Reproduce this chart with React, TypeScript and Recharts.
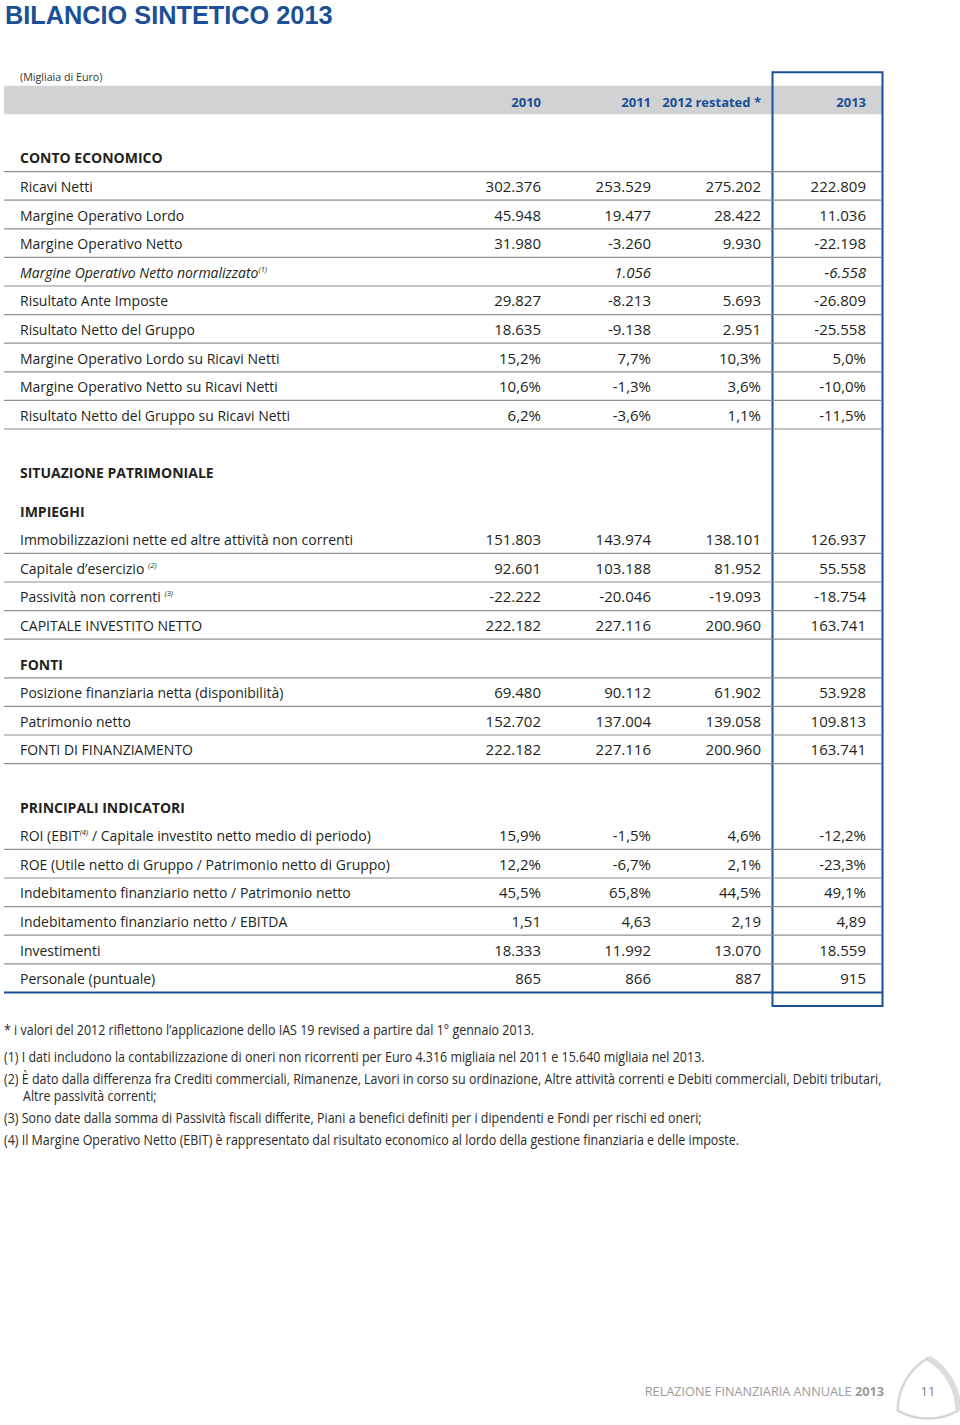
import React from 'react';
import { ScatterChart, Scatter, XAxis, YAxis, ReferenceLine, ReferenceArea } from 'recharts';

// ---------------- DATA ----------------
const title = 'BILANCIO SINTETICO 2013';
const unitNote = '(Migliaia di Euro)';
const years = ['2010', '2011', '2012 restated *', '2013'];

const ceTitle = 'CONTO ECONOMICO';
const ceLabels = [
  'Ricavi Netti',
  'Margine Operativo Lordo',
  'Margine Operativo Netto',
  'Margine Operativo Netto normalizzato^(1)',
  'Risultato Ante Imposte',
  'Risultato Netto del Gruppo',
  'Margine Operativo Lordo su Ricavi Netti',
  'Margine Operativo Netto su Ricavi Netti',
  'Risultato Netto del Gruppo su Ricavi Netti',
];
const ce2010 = [302376, 45948, 31980, null, 29827, 18635, 15.2, 10.6, 6.2];
const ce2011 = [253529, 19477, -3260, 1056, -8213, -9138, 7.7, -1.3, -3.6];
const ce2012 = [275202, 28422, 9930, null, 5693, 2951, 10.3, 3.6, 1.1];
const ce2013 = [222809, 11036, -22198, -6558, -26809, -25558, 5.0, -10.0, -11.5];
const ceFormats = ['k', 'k', 'k', 'k', 'k', 'k', 'pct', 'pct', 'pct'];
const ceItalicRows = [3];

const spTitle = 'SITUAZIONE PATRIMONIALE';
const impTitle = 'IMPIEGHI';
const impLabels = [
  'Immobilizzazioni nette ed altre attività non correnti',
  'Capitale d’esercizio ^(2)',
  'Passività non correnti ^(3)',
  'CAPITALE INVESTITO NETTO',
];
const imp2010 = [151803, 92601, -22222, 222182];
const imp2011 = [143974, 103188, -20046, 227116];
const imp2012 = [138101, 81952, -19093, 200960];
const imp2013 = [126937, 55558, -18754, 163741];

const fontiTitle = 'FONTI';
const fontiLabels = [
  'Posizione finanziaria netta (disponibilità)',
  'Patrimonio netto',
  'FONTI DI FINANZIAMENTO',
];
const fonti2010 = [69480, 152702, 222182];
const fonti2011 = [90112, 137004, 227116];
const fonti2012 = [61902, 139058, 200960];
const fonti2013 = [53928, 109813, 163741];

const indTitle = 'PRINCIPALI INDICATORI';
const indLabels = [
  'ROI (EBIT^(4)^ / Capitale investito netto medio di periodo)',
  'ROE (Utile netto di Gruppo / Patrimonio netto di Gruppo)',
  'Indebitamento finanziario netto / Patrimonio netto',
  'Indebitamento finanziario netto / EBITDA',
  'Investimenti',
  'Personale (puntuale)',
];
const ind2010 = [15.9, 12.2, 45.5, 1.51, 18333, 865];
const ind2011 = [-1.5, -6.7, 65.8, 4.63, 11992, 866];
const ind2012 = [4.6, 2.1, 44.5, 2.19, 13070, 887];
const ind2013 = [-12.2, -23.3, 49.1, 4.89, 18559, 915];
const indFormats = ['pct', 'pct', 'pct', 'ratio', 'k', 'k'];

const ruledHeadings = [ceTitle, fontiTitle];

const footnotes = [
  '* i valori del 2012 riflettono l’applicazione dello IAS 19 revised a partire dal 1° gennaio 2013.',
  '(1) I dati includono la contabilizzazione di oneri non ricorrenti per Euro 4.316 migliaia nel 2011 e 15.640 migliaia nel 2013.',
  '(2) È dato dalla differenza fra Crediti commerciali, Rimanenze, Lavori in corso su ordinazione, Altre attività correnti e Debiti commerciali, Debiti tributari,',
  'Altre passività correnti;',
  '(3) Sono date dalla somma di Passività fiscali differite, Piani a benefici definiti per i dipendenti e Fondi per rischi ed oneri;',
  '(4) Il Margine Operativo Netto (EBIT) è rappresentato dal risultato economico al lordo della gestione finanziaria e delle imposte.',
];
const footerText = 'RELAZIONE FINANZIARIA ANNUALE ';
const footerYear = '2013';
const pageNumber = '11';

// ---------------- LAYOUT / STYLE ----------------
const W = 960;
const H = 1425;
const FONT = "'Open Sans', 'Noto Sans', sans-serif";
const TITLE_FONT = "'Liberation Sans', Arial, sans-serif";
const BLUE = '#1b4f96';
const TEXT = '#231f20';
const GRID = '#8e8e8e';
const COL_RIGHT = [541, 651, 761, 866];
const LABEL_X = 20;
const TABLE_L = 4;
const TABLE_R = 882;
const BASE0 = 163.3;
const ROW = 28.6;
const LINE_OFF = 8.3;

type Fmt = 'k' | 'pct' | 'ratio';
type Row = {
  label: string;
  kind: 'section' | 'sub' | 'data';
  vals?: (number | null)[];
  fmt?: Fmt;
  italic?: boolean;
};

function groupThousands(n: number): string {
  const s = Math.abs(Math.round(n)).toString();
  const out = s.replace(/\B(?=(\d{3})+(?!\d))/g, '.');
  return (n < 0 ? '-' : '') + out;
}
function fmtValue(v: number | null, f: Fmt): string {
  if (v === null || v === undefined) return '';
  if (f === 'pct') return v.toFixed(1).replace('.', ',') + '%';
  if (f === 'ratio') return v.toFixed(2).replace('.', ',');
  return groupThousands(v);
}

function dataRows(labels: string[], cols: (number | null)[][], fmts: string[] | Fmt, italic: number[] = []): Row[] {
  return labels.map((label, i) => ({
    label,
    kind: 'data' as const,
    vals: cols.map((c) => c[i]),
    fmt: (Array.isArray(fmts) ? fmts[i] : fmts) as Fmt,
    italic: italic.includes(i),
  }));
}

const rows: Row[] = [
  { label: ceTitle, kind: 'section' },
  ...dataRows(ceLabels, [ce2010, ce2011, ce2012, ce2013], ceFormats, ceItalicRows),
  { label: spTitle, kind: 'section' },
  { label: impTitle, kind: 'sub' },
  ...dataRows(impLabels, [imp2010, imp2011, imp2012, imp2013], 'k'),
  { label: fontiTitle, kind: 'sub' },
  ...dataRows(fontiLabels, [fonti2010, fonti2011, fonti2012, fonti2013], 'k'),
  { label: indTitle, kind: 'section' },
  ...dataRows(indLabels, [ind2010, ind2011, ind2012, ind2013], indFormats),
];

type TextItem = {
  px: number;
  py: number;
  text: string;
  anchor?: 'start' | 'end' | 'middle';
  size: number;
  weight?: number;
  fill?: string;
  italic?: boolean;
  sx?: number;
  family?: string;
};

const cells: TextItem[] = [];
const rules: { y: number; blue: boolean }[] = [];
let u = 0;
rows.forEach((r, i) => {
  if (i > 0) u += r.kind === 'section' ? 2 : r.kind === 'sub' ? 1.35 : 1;
  const base = BASE0 + u * ROW;
  cells.push({
    px: LABEL_X,
    py: base,
    text: r.label,
    size: 14,
    weight: r.kind === 'data' ? 400 : 700,
    italic: r.italic,
    fill: TEXT,
  });
  if (r.vals) {
    r.vals.forEach((v, c) => {
      const t = fmtValue(v, r.fmt as Fmt);
      if (t) cells.push({ px: COL_RIGHT[c], py: base, text: t, anchor: 'end', size: 15, italic: r.italic, fill: TEXT });
    });
  }
  if (r.kind === 'data' || ruledHeadings.includes(r.label)) {
    rules.push({ y: base + LINE_OFF, blue: i === rows.length - 1 });
  }
});
const tableBottom = rules[rules.length - 1].y;

const headerItems: TextItem[] = [
  { px: 5, py: 23.5, text: title, size: 25.3, weight: 700, fill: BLUE, family: TITLE_FONT },
  { px: LABEL_X, py: 81, text: unitNote, size: 11.5, fill: '#333', sx: 0.93 },
  ...years.map((y, i) => ({ px: COL_RIGHT[i], py: 106.5, text: y, anchor: 'end' as const, size: 13, weight: 700, fill: BLUE })),
];

const FOOT_Y = [1035, 1062, 1084, 1101, 1123, 1145];
const footItems: TextItem[] = footnotes.map((t, i) => ({
  px: i === 3 ? 23 : 4,
  py: FOOT_Y[i],
  text: t,
  size: 14,
  fill: '#2a2a2a',
  sx: 0.892,
}));

const footerItems: TextItem[] = [
  { px: 884, py: 1396, text: footerText + '~' + footerYear, anchor: 'end', size: 12.7, fill: '#9a9a9a' },
  { px: 928, py: 1396, text: pageNumber, anchor: 'middle', size: 13, fill: '#808080' },
];

// ---------------- RENDERING ----------------
function TextShape(props: any) {
  const { cx, cy, payload } = props;
  if (cx == null || cy == null || !payload) return null;
  const p = payload as TextItem;
  const sx = p.sx ?? 1;
  const sup = p.size * 0.42;
  // '~' marks a bold tail, '^' toggles superscript
  let main = p.text;
  let boldTail = '';
  if (main.includes('~')) {
    [main, boldTail] = main.split('~');
  }
  const parts = main.split('^');
  return (
    <text
      transform={`translate(${cx},${cy}) scale(${sx},1)`}
      x={0}
      y={0}
      textAnchor={p.anchor ?? 'start'}
      fontFamily={p.family ?? FONT}
      fontSize={p.size}
      fontWeight={p.weight ?? 400}
      fontStyle={p.italic ? 'italic' : 'normal'}
      fill={p.fill ?? TEXT}
      style={{ whiteSpace: 'pre' }}
    >
      {parts.map((s, i) =>
        i % 2 === 1 ? (
          <tspan key={i} fontSize={p.size * 0.55} dy={-sup} fontStyle="italic">
            {s}
          </tspan>
        ) : (
          <tspan key={i} dy={i > 0 ? sup : 0}>
            {s}
          </tspan>
        )
      )}
      {boldTail ? <tspan fontWeight={700}>{boldTail}</tspan> : null}
    </text>
  );
}

function BadgeShape(props: any) {
  const { cx, cy } = props;
  if (cx == null || cy == null) return null;
  const r = 35;
  const w = r * Math.sqrt(3);
  const top = [cx, cy - r];
  const right = [cx + r * Math.cos(Math.PI / 6), cy + r * Math.sin(Math.PI / 6)];
  const left = [cx - r * Math.cos(Math.PI / 6), cy + r * Math.sin(Math.PI / 6)];
  const d = `M${top[0]},${top[1]} A${w},${w} 0 0 1 ${right[0]},${right[1]} A${w},${w} 0 0 1 ${left[0]},${left[1]} A${w},${w} 0 0 1 ${top[0]},${top[1]} Z`;
  const dRight = `M${top[0]},${top[1]} A${w},${w} 0 0 1 ${right[0]},${right[1]}`;
  return (
    <g>
      <path d={d} fill="#ffffff" stroke="#d6d6d6" strokeWidth={2.5} />
      <path d={dRight} fill="none" stroke="#dcdcdc" strokeWidth={6} />
    </g>
  );
}

const badge = [{ px: 928, py: 1393 }];

export default function App() {
  return (
    <div style={{ width: W, height: H, overflow: 'hidden', background: '#fff' }}>
      <style>{'body{margin:0;background:#fff}'}</style>
      <ScatterChart width={W} height={H} margin={{ top: 0, right: 0, bottom: 0, left: 0 }}>
        <XAxis type="number" dataKey="px" domain={[0, W]} hide allowDataOverflow height={0} />
        <YAxis type="number" dataKey="py" domain={[0, H]} reversed hide allowDataOverflow width={0} />
        <ReferenceArea
          x1={TABLE_L}
          x2={TABLE_R}
          y1={85.7}
          y2={114.3}
          fill="#d1d2d4"
          fillOpacity={1}
          stroke="none"
        />
        {rules.map((r, i) => (
          <ReferenceLine
            key={i}
            segment={[
              { x: TABLE_L, y: r.y },
              { x: TABLE_R, y: r.y },
            ]}
            stroke={r.blue ? BLUE : GRID}
            strokeWidth={r.blue ? 2 : 1.2}
          />
        ))}
        <ReferenceArea
          x1={772.5}
          x2={882.5}
          y1={72.3}
          y2={tableBottom + 13.5}
          fill="none"
          fillOpacity={0}
          stroke={BLUE}
          strokeWidth={2}
        />
        <Scatter data={badge} shape={BadgeShape} isAnimationActive={false} />
        <Scatter data={headerItems} shape={TextShape} isAnimationActive={false} />
        <Scatter data={cells} shape={TextShape} isAnimationActive={false} />
        <Scatter data={footItems} shape={TextShape} isAnimationActive={false} />
        <Scatter data={footerItems} shape={TextShape} isAnimationActive={false} />
      </ScatterChart>
    </div>
  );
}
